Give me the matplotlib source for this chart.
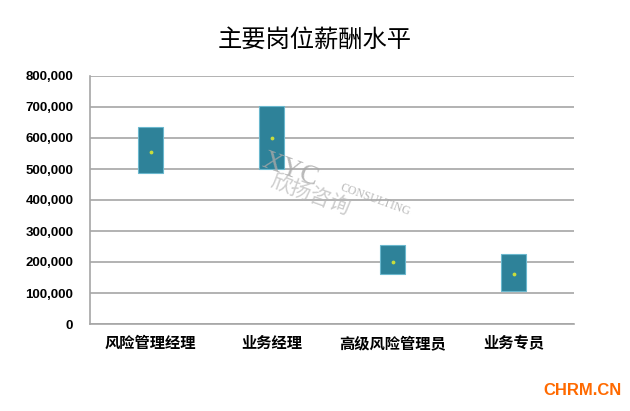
import matplotlib.pyplot as plt
import matplotlib.ticker as mticker

plt.rcParams['font.family'] = ['Noto Sans CJK SC', 'DejaVu Sans']

categories = ['风险管理经理', '业务经理', '高级风险管理员', '业务专员']
low = [486000, 500000, 161000, 107000]
high = [635000, 702000, 255000, 225000]
mid = [555000, 600000, 201000, 161000]

fig = plt.figure(figsize=(6.3, 4.11), dpi=100)
ax = fig.add_axes([90/630, 1-324/411, 484/630, 248/411])

x = range(len(categories))
heights = [h - l for h, l in zip(high, low)]
ax.bar(x, heights, bottom=low, width=0.21, color='#2E8299',
       edgecolor='#6BB8CE', linewidth=0.8, zorder=3)
ax.scatter(x, mid, s=3, color='#C8DC3C', zorder=4)

ax.set_xlim(-0.5, 3.5)
ax.set_ylim(0, 800000)
ax.yaxis.set_major_locator(mticker.MultipleLocator(100000))
ax.yaxis.set_major_formatter(mticker.FuncFormatter(lambda v, p: f'{int(v):,}'))
ax.grid(axis='y', color='#A6A6A6', linewidth=1.2, zorder=0)
for s in ['top', 'right']:
    ax.spines[s].set_visible(False)
for s in ['left', 'bottom']:
    ax.spines[s].set_color('#A6A6A6')
    ax.spines[s].set_linewidth(1.2)
ax.tick_params(length=0)
ax.tick_params(axis='y', pad=12)
ax.tick_params(axis='x', pad=8)
ax.set_xticks(list(x))
ax.set_xticklabels(categories, fontsize=11, fontweight='bold')
for t in ax.get_yticklabels():
    t.set_fontfamily('Liberation Sans')
    t.set_fontsize(9.5)
    t.set_fontweight('bold')

fig.text(0.5, 1-40/411, '主要岗位薪酬水平', ha='center', va='center', fontsize=17.5)

# watermark
fig.text(290/630, 1-170/411, 'XYC', rotation=-20, fontsize=20, color='#A8A8A8',
         family='Liberation Serif', ha='center', va='center', alpha=0.8)
fig.text(375/630, 1-200/411, 'CONSULTING', rotation=-20, fontsize=8.5, color='#A8A8A8',
         family='Liberation Serif', ha='center', va='center', alpha=0.8)
fig.text(310/630, 1-195/411, '欣扬咨询', rotation=-20, fontsize=15, color='#B8B8B8',
         ha='center', va='center', alpha=0.7)

fig.text(582/630, 1-390/411, 'CHRM.CN', ha='center', va='center', fontsize=12,
         fontweight='bold', color='#FF6A00', family='Liberation Sans')

fig.savefig('out.png', dpi=100)
